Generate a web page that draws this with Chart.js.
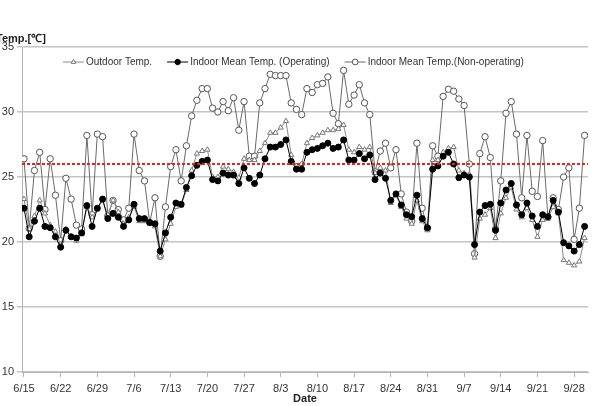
<!DOCTYPE html>
<html>
<head>
<meta charset="utf-8">
<script src="https://cdn.jsdelivr.net/npm/chart.js@4/dist/chart.umd.min.js"></script>
<style>
  body { margin: 0; background: #fff; }
  #wrap { width: 593px; height: 406px; position: relative; }
</style>
</head>
<body>
<div id="wrap"><canvas id="chart"></canvas></div>
<script>
// daily values from 6/15 to 9/30
const outdoorTemp = [
  23.3, 21.0, 22.0, 23.2, 22.2, 21.3, 20.8, 19.8, 21.0, 20.4,
  20.1, 20.6, 22.7, 21.9, 22.5, 23.2, 22.1, 23.2, 22.3, 21.4,
  21.9, 22.7, 21.6, 21.6, 21.4, 21.2, 18.9, 20.2, 21.4, 22.7,
  22.8, 24.0, 25.5, 26.8, 27.0, 27.1, 25.0, 25.0, 25.8, 25.6,
  25.4, 24.95, 26.4, 26.3, 26.3, 27.0, 27.6, 28.4, 28.4, 28.8,
  29.3, 26.7, 25.85, 26.0, 27.6, 28.0, 28.2, 28.4, 28.6, 28.6,
  28.7, 29.0, 27.1, 26.9, 27.3, 27.1, 27.3, 25.3, 25.7, 25.5,
  23.0, 23.6, 22.7, 21.8, 21.4, 23.2, 21.6, 20.9, 26.3, 26.3,
  26.9, 27.2, 27.3, 25.5, 25.3, 25.2, 18.8, 21.8, 22.1, 22.6,
  20.3, 22.2, 23.4, 24.2, 22.5, 21.9, 22.6, 21.7, 20.4, 21.7,
  21.8, 22.7, 22.2, 18.6, 18.4, 18.2, 18.5, 20.3
];
const indoorOperating = [
  22.6, 20.4, 21.6, 22.6, 21.2, 21.1, 20.4, 19.6, 20.9, 20.4,
  20.3, 20.7, 22.8, 21.2, 22.6, 23.3, 21.8, 22.2, 21.9, 21.2,
  21.7, 22.9, 21.8, 21.8, 21.5, 21.4, 19.3, 20.7, 21.9, 23.0,
  22.9, 24.2, 25.1, 25.9, 26.2, 26.3, 24.8, 24.7, 25.3, 25.15,
  25.15, 24.5, 25.7, 24.9, 24.5, 25.15, 26.4, 27.3, 27.3, 27.5,
  27.85, 26.2, 25.6, 25.6, 26.9, 27.1, 27.2, 27.4, 27.6, 27.2,
  27.3, 27.85, 26.3, 26.3, 26.8, 26.4, 26.7, 24.8, 25.3, 24.9,
  23.2, 23.7, 22.85, 22.1, 21.95, 23.6, 21.8, 21.1, 25.6, 25.85,
  26.6, 26.9, 26.0, 24.95, 25.15, 25.0, 19.8, 22.3, 22.8, 22.9,
  20.9, 23.0, 24.0, 24.5, 22.85, 22.1, 23.0, 22.0, 21.2, 22.1,
  21.95, 23.2, 22.3, 19.95, 19.7, 19.3, 19.8, 21.2
];
const indoorNonOperating = [
  26.4, 21.05, 25.5, 26.9, 22.5, 26.4, 23.6, 20.1, 24.9, 23.3,
  21.3, 21.0, 28.2, 22.1, 28.3, 28.1, 22.0, 23.2, 22.5, 21.7,
  22.6, 28.3, 25.5, 24.7, 21.5, 23.4, 18.9, 22.7, 25.8, 27.1,
  24.7, 27.4, 29.7, 30.9, 31.8, 31.8, 30.3, 30.0, 30.8, 30.1,
  31.1, 28.6, 30.8, 26.6, 26.6, 30.7, 31.8, 32.9, 32.8, 32.8,
  32.8, 30.7, 30.2, 29.8, 31.8, 31.5, 32.1, 32.2, 32.7, 29.9,
  29.1, 33.2, 30.6, 31.3, 32.1, 30.7, 29.8, 25.4, 27.0, 27.6,
  25.7, 27.1, 23.7, 22.3, 21.6, 27.6, 22.6, 21.05, 27.4, 26.6,
  31.2, 31.75, 31.6, 31.0, 30.5, 26.0, 19.1, 26.8, 28.1, 26.5,
  21.0, 24.7, 29.9, 30.8, 28.3, 23.4, 28.2, 23.9, 23.5, 27.8,
  21.9, 23.4, 22.5, 25.0, 25.7, 20.2, 22.6, 28.2
];
const xTickLabels = ['6/15', '6/22', '6/29', '7/6', '7/13', '7/20', '7/27', '8/3',
  '8/10', '8/17', '8/24', '8/31', '9/7', '9/14', '9/21', '9/28'];
const tickEvery = 7;      // days between date labels
const yTicks = [10, 15, 20, 25, 30, 35];
const limitTemp = 26;     // red dashed reference line

const X_MIN = -0.38, X_MAX = 107.65;

function toPoints(arr) {
  return arr.map((v, i) => ({ x: i, y: v }));
}

// legend drawn inside the plot area, Excel style (line + marker)
const insideLegend = {
  id: 'insideLegend',
  afterDraw(chart) {
    const ctx = chart.ctx;
    let x = 63;
    const y = 62;
    ctx.save();
    ctx.font = '10px "Liberation Sans", Arial, sans-serif';
    ctx.textBaseline = 'middle';
    const items = chart.data.datasets.filter(d => d.legendPos !== undefined)
      .sort((a, b) => a.legendPos - b.legendPos);
    items.forEach(ds => {
      ctx.strokeStyle = ds.borderColor;
      ctx.lineWidth = 1;
      ctx.beginPath();
      ctx.moveTo(x, y);
      ctx.lineTo(x + 21, y);
      ctx.stroke();
      ctx.fillStyle = ds.pointBackgroundColor;
      ctx.strokeStyle = ds.pointBorderColor;
      Chart.helpers.drawPoint(ctx, {
        pointStyle: ds.pointStyle, radius: ds.pointRadius - 0.3,
        borderWidth: 1, rotation: 0
      }, x + 10.5, y);
      ctx.fillStyle = '#333';
      ctx.fillText(ds.label, x + 23, y + 0.5);
      x += 23 + ctx.measureText(ds.label).width + 15;
    });
    // y axis title sits horizontally above the axis
    ctx.font = 'bold 11px "Liberation Sans", Arial, sans-serif';
    ctx.fillStyle = '#222';
    ctx.fillText('Temp.[\u2103]', -4, 39);
    ctx.restore();
  }
};

new Chart(document.getElementById('chart'), {
  type: 'line',
  data: {
    datasets: [
      {
        label: 'Indoor Mean Temp. (Operating)',
        data: toPoints(indoorOperating),
        borderColor: '#000', borderWidth: 1,
        pointStyle: 'circle', pointRadius: 3,
        pointBackgroundColor: '#000', pointBorderColor: '#000', pointBorderWidth: 1,
        order: 1, legendPos: 1
      },
      {
        label: 'Outdoor Temp.',
        data: toPoints(outdoorTemp),
        borderColor: '#8a8a8a', borderWidth: 1,
        pointStyle: 'triangle', pointRadius: 3,
        pointBackgroundColor: '#fff', pointBorderColor: '#777', pointBorderWidth: 1,
        order: 2, legendPos: 0
      },
      {
        label: 'Indoor Mean Temp.(Non-operating)',
        data: toPoints(indoorNonOperating),
        borderColor: '#6a6a6a', borderWidth: 1,
        pointStyle: 'circle', pointRadius: 3.2,
        pointBackgroundColor: '#fff', pointBorderColor: '#555', pointBorderWidth: 1,
        order: 3, legendPos: 2
      },
      {
        label: 'limit',
        data: [{ x: X_MIN, y: limitTemp }, { x: X_MAX, y: limitTemp }],
        borderColor: '#e8231e', borderWidth: 2, borderDash: [3, 2],
        pointRadius: 0, order: 0
      }
    ]
  },
  options: {
    responsive: true,
    maintainAspectRatio: false,
    animation: false,
    devicePixelRatio: 1,
    layout: { padding: { top: 47, right: 2, left: 0, bottom: 0 } },
    plugins: { legend: { display: false }, tooltip: { enabled: false } },
    elements: { line: { tension: 0 } },
    font: { family: '"Liberation Sans", Arial, sans-serif' },
    scales: {
      x: {
        type: 'linear',
        min: X_MIN, max: X_MAX,
        afterBuildTicks: axis => {
          axis.ticks = xTickLabels.map((_, k) => ({ value: k * tickEvery }));
        },
        afterFit: axis => { axis.height = 34; },
        ticks: {
          autoSkip: false, maxRotation: 0, padding: 5,
          color: '#333', font: { size: 11 },
          callback: v => xTickLabels[v / tickEvery]
        },
        grid: { drawOnChartArea: false, drawTicks: true, tickLength: 5, color: '#b5b5b5' },
        border: { color: '#b5b5b5', width: 1 },
        title: {
          display: true, text: 'Date', color: '#222',
          font: { size: 11, weight: 'bold' }, padding: { top: 0, bottom: 0 }
        }
      },
      y: {
        min: yTicks[0], max: yTicks[yTicks.length - 1],
        afterBuildTicks: axis => { axis.ticks = yTicks.map(v => ({ value: v })); },
        afterFit: axis => { axis.width = 22; },
        ticks: { color: '#333', font: { size: 11 }, padding: 3 },
        grid: { color: '#c4c4c4', lineWidth: 1.5, tickLength: 5 },
        border: { color: '#b5b5b5', width: 1 }
      }
    }
  },
  plugins: [insideLegend]
});
</script>
</body>
</html>
